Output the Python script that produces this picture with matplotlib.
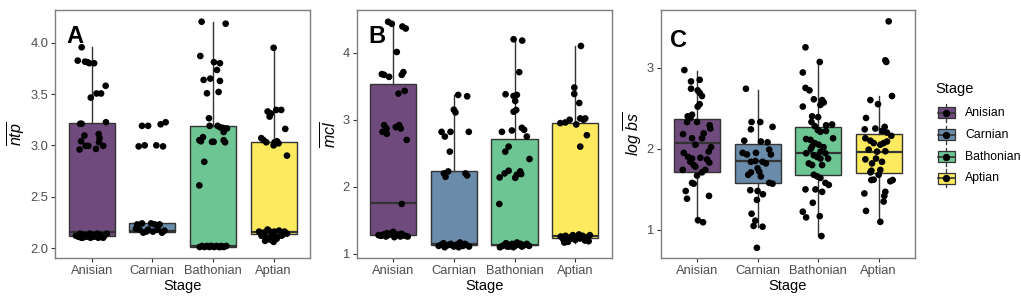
import matplotlib
matplotlib.use("Agg")
import matplotlib.pyplot as plt
from matplotlib.patches import Rectangle

plt.rcParams['font.family'] = ['Liberation Sans', 'DejaVu Sans']
plt.rcParams['mathtext.fontset'] = 'custom'
plt.rcParams['mathtext.it'] = 'Liberation Sans:italic'
plt.rcParams['mathtext.rm'] = 'Liberation Sans'

# ---------------- data ----------------
stages = ["Anisian", "Carnian", "Bathonian", "Aptian"]
stage_colors = ["#6F4A7D", "#6A8BAA", "#6CC593", "#FDEA5E"]

# Panel A: mean ntp  (jitter offsets dx, values y)
A_anisian_dx = [-0.165, -0.23, -0.11, -0.07, -0.04, 0.04, 0.23, 0.08, 0.155, -0.015, -0.19, -0.165, 0.235,
                -0.12, 0.115, 0.13, 0.12, -0.175, -0.10, -0.055, 0.19, 0.07, -0.2,
                -0.26, -0.22, -0.19, -0.15, -0.12, -0.08, -0.05, -0.02, 0.01, 0.04, 0.07, 0.11, 0.14, 0.17,
                0.21, 0.25, -0.17, -0.03, 0.09, 0.19]
A_anisian_y = [3.955, 3.825, 3.815, 3.81, 3.80, 3.80, 3.58, 3.505, 3.505, 3.465, 3.21, 3.21, 3.225,
               3.095, 3.11, 3.07, 3.03, 3.04, 2.995, 2.995, 2.995, 2.965, 2.96,
               2.12, 2.11, 2.14, 2.10, 2.13, 2.11, 2.12, 2.10, 2.13, 2.11, 2.12, 2.10, 2.13, 2.11,
               2.12, 2.14, 2.10, 2.14, 2.14, 2.10]
A_carnian_dx = [-0.17, -0.07, 0.137, 0.22, -0.225, -0.126, 0.066, 0.176,
                -0.25, -0.17, -0.02, 0.04, -0.21, -0.15, -0.07, 0.01, 0.09, 0.16, -0.27, 0.12, -0.1, 0.2]
A_carnian_y = [3.19, 3.19, 3.205, 3.225, 2.99, 3.0, 3.0, 2.99,
               2.23, 2.24, 2.24, 2.23, 2.18, 2.15, 2.18, 2.16, 2.18, 2.15, 2.19, 2.23, 2.16, 2.17]
A_bathonian_dx = [-0.187, 0.209, -0.209, 0.016, 0.115, 0.066, -0.154, -0.044, 0.115, -0.099, 0.093, -0.066,
                  -0.055, 0.077, 0.12, 0.165, 0.23, 0.176, -0.165, -0.225, -0.198, -0.016, 0.011, 0.176,
                  0.2, -0.143, -0.225,
                  -0.22, -0.18, -0.14, -0.1, -0.06, -0.02, 0.02, 0.06, 0.1, 0.14, 0.18, 0.22, -0.04, 0.12]
A_bathonian_y = [4.204, 4.185, 3.87, 3.81, 3.80, 3.734, 3.637, 3.65, 3.627, 3.507, 3.52, 3.264,
                 3.19, 3.19, 3.175, 3.17, 3.165, 3.13, 3.08, 3.05, 3.04, 3.034, 3.034, 3.05,
                 3.03, 2.84, 2.61,
                 2.01, 2.02, 2.01, 2.02, 2.01, 2.02, 2.01, 2.02, 2.01, 2.02, 2.01, 2.02, 2.02, 2.01]
A_aptian_dx = [0.0, -0.099, -0.044, 0.044, 0.126, -0.066, 0.192, -0.203, -0.165, -0.12, 0.016, 0.055, 0.0,
               0.082, 0.22,
               -0.24, -0.2, -0.16, -0.12, -0.08, -0.03, 0.01, 0.05, 0.09, 0.13, 0.18, 0.22, -0.14, -0.05,
               0.04, 0.15, -0.1, 0.0]
A_aptian_y = [3.95, 3.33, 3.31, 3.345, 3.345, 3.28, 3.16, 3.07, 3.05, 3.03, 3.03, 3.04, 3.00,
              3.02, 2.90,
              2.16, 2.12, 2.15, 2.10, 2.17, 2.13, 2.16, 2.09, 2.17, 2.12, 2.16, 2.14, 2.07, 2.08,
              2.11, 2.13, 2.18, 2.06]

# Panel B: mean mcl
B_anisian_dx = [-0.082, -0.022, 0.153, 0.208, 0.06, -0.186, -0.148, -0.066, 0.169, 0.142, 0.087, 0.191,
                -0.148, -0.109, -0.175, -0.104, 0.044, 0.098, 0.126, 0.224, 0.142,
                -0.24, -0.2, -0.16, -0.12, -0.08, -0.04, 0.0, 0.04, 0.08, 0.12, 0.16, 0.2, 0.24, -0.1, 0.02, 0.14]
B_anisian_y = [4.46, 4.43, 4.39, 4.36, 4.01, 3.68, 3.67, 3.64, 3.71, 3.67, 3.39, 3.43,
               2.92, 2.87, 2.82, 2.79, 2.89, 2.92, 2.87, 2.70, 1.745,
               1.28, 1.27, 1.29, 1.26, 1.28, 1.30, 1.33, 1.27, 1.29, 1.26, 1.28, 1.27, 1.26, 1.31, 1.25, 1.30]
B_carnian_dx = [0.071, 0.219, 0.0, 0.027, -0.202, -0.055, 0.246, -0.148, -0.066, -0.164, -0.137, -0.093,
                0.191, 0.219,
                -0.25, -0.2, -0.15, -0.1, -0.05, 0.0, 0.05, 0.1, 0.15, 0.2, 0.25, -0.17, -0.03, 0.08, 0.18]
B_carnian_y = [3.37, 3.35, 3.15, 3.11, 2.82, 2.82, 2.82, 2.75, 2.525, 2.20, 2.15, 2.23,
               2.20, 2.17,
               1.12, 1.14, 1.10, 1.13, 1.15, 1.11, 1.14, 1.17, 1.12, 1.14, 1.11, 1.16, 1.13, 1.10, 1.15]
B_bathonian_dx = [-0.016, 0.126, 0.077, -0.148, -0.016, 0.038, 0.011, -0.016, 0.027, -0.208, -0.044, 0.12,
                  0.158, 0.202, -0.098, -0.153, 0.246, -0.246, -0.164, -0.098, 0.011, 0.038, 0.093, 0.109,
                  -0.251,
                  -0.24, -0.2, -0.16, -0.12, -0.08, -0.04, 0.0, 0.04, 0.08, 0.12, 0.16, 0.2, 0.24, -0.14,
                  -0.02, 0.1, 0.03, -0.09]
B_bathonian_y = [4.20, 4.18, 3.71, 3.38, 3.355, 3.37, 3.28, 3.12, 3.145, 2.82, 2.84, 2.88,
                 2.85, 2.75, 2.60, 2.525, 2.415, 2.14, 2.20, 2.24, 2.135, 2.18, 2.23, 2.19,
                 1.745,
                 1.10, 1.12, 1.14, 1.11, 1.13, 1.15, 1.12, 1.17, 1.14, 1.11, 1.13, 1.15, 1.12, 1.16,
                 1.10, 1.15, 1.13, 1.11]
B_aptian_dx = [0.093, -0.016, -0.016, 0.066, -0.246, -0.164, -0.093, 0.016, 0.082, 0.164, 0.137, 0.191, 0.082,
               -0.24, -0.2, -0.16, -0.12, -0.08, -0.04, 0.0, 0.04, 0.08, 0.12, 0.16, 0.2, 0.24, -0.18,
               -0.06, 0.06, 0.14, 0.22]
B_aptian_y = [4.10, 3.48, 3.385, 3.25, 2.95, 2.96, 3.0, 2.93, 3.02, 3.02, 3.0, 2.77, 2.60,
              1.26, 1.22, 1.27, 1.18, 1.25, 1.28, 1.21, 1.26, 1.23, 1.27, 1.20, 1.25, 1.28, 1.17,
              1.23, 1.29, 1.24, 1.19]

# Panel C: log mean bs
C_anisian_dx = [-0.209, -0.099, 0.044, -0.099, 0.011, 0.044, 0.082, 0.044, 0.011, -0.154, -0.082, -0.11,
                -0.165, 0.0, 0.209, 0.22, -0.231, -0.082, 0.11, 0.082, 0.231, 0.192, -0.22, -0.148,
                -0.11, -0.082, 0.055, 0.165, 0.203, -0.055, -0.027, 0.082, 0.137, -0.236, 0.0, -0.082,
                -0.055, -0.187, -0.165, 0.198, 0.016, 0.099, -0.027]
C_anisian_y = [2.97, 2.83, 2.85, 2.74, 2.72, 2.69, 2.65, 2.55, 2.52, 2.40, 2.42, 2.38,
               2.33, 2.33, 2.29, 2.25, 2.18, 2.13, 2.19, 2.13, 2.02, 1.965, 1.95, 1.90,
               1.84, 1.88, 1.89, 1.87, 1.83, 1.80, 1.78, 1.71, 1.74, 1.74, 1.67, 1.58,
               1.57, 1.48, 1.385, 1.42, 1.12, 1.095, 2.05]
C_carnian_dx = [-0.192, -0.099, 0.044, -0.11, 0.247, -0.22, 0.055, 0.165, -0.247, -0.176, -0.027, 0.192,
                0.22, -0.11, -0.038, 0.082, 0.137, 0.0, 0.027, -0.11, -0.154, 0.055, 0.192, 0.247,
                -0.121, 0.0, 0.088, -0.011, -0.099, -0.038, 0.082, -0.066, -0.011]
C_carnian_y = [2.74, 2.33, 2.33, 2.24, 2.27, 2.10, 2.09, 2.08, 1.95, 1.93, 1.95, 1.99,
               1.93, 1.84, 1.85, 1.84, 1.82, 1.76, 1.72, 1.71, 1.68, 1.66, 1.58, 1.57,
               1.49, 1.48, 1.44, 1.37, 1.20, 1.115, 1.04, 1.05, 0.78]
C_bathonian_dx = [-0.209, 0.027, -0.253, -0.209, -0.143, -0.071, 0.066, 0.093, 0.038, -0.253, -0.099, 0.0,
                  0.132, 0.231, -0.11, -0.055, -0.005, 0.038, 0.247, -0.198, -0.126, -0.055, 0.011, -0.099,
                  0.121, -0.198, -0.016, 0.038, -0.071, -0.154, -0.099, 0.066, 0.165, -0.071, -0.016, 0.038,
                  0.121, 0.176, -0.209, -0.044, 0.066, -0.088, -0.253, -0.198, 0.027, 0.055,
                  0.04, -0.12, 0.09, 0.13]
C_bathonian_y = [3.25, 3.07, 2.94, 2.75, 2.72, 2.61, 2.60, 2.57, 2.54, 2.52, 2.40, 2.39,
                 2.29, 2.30, 2.33, 2.28, 2.23, 2.21, 2.13, 2.12, 2.11, 2.07, 2.05, 2.03,
                 1.945, 1.945, 1.90, 1.88, 1.92, 1.82, 1.80, 1.80, 1.88, 1.68, 1.66, 1.64,
                 1.58, 1.555, 1.50, 1.50, 1.47, 1.335, 1.225, 1.155, 1.17, 0.925,
                 1.965, 2.0, 2.02, 2.22]
C_aptian_dx = [0.165, 0.11, 0.126, 0.22, -0.137, -0.011, -0.209, -0.231, -0.055, 0.099, 0.055, 0.137,
               0.209, -0.22, -0.137, -0.082, 0.027, 0.082, 0.137, -0.165, -0.027, 0.11, -0.22, -0.11,
               -0.044, 0.055, -0.121, 0.027, -0.137, 0.0, -0.082, -0.121, 0.231, 0.192, -0.236, 0.11,
               0.093, 0.082, -0.209, 0.027]
C_aptian_y = [3.57, 3.09, 3.07, 2.65, 2.60, 2.55, 2.38, 2.24, 2.25, 2.27, 2.22, 2.20,
              2.16, 2.13, 2.10, 2.07, 2.05, 2.07, 2.09, 1.99, 1.965, 1.97, 1.87, 1.82,
              1.88, 1.84, 1.73, 1.74, 1.71, 1.68, 1.62, 1.615, 1.615, 1.60, 1.45, 1.47,
              1.42, 1.35, 1.235, 1.10]

# box statistics: q1, median, q3, lower whisker, upper whisker
A_q1 = [2.113, 2.156, 2.013, 2.140]
A_med = [2.152, 2.165, 2.020, 2.155]
A_q3 = [3.216, 2.243, 3.190, 3.037]
A_lo = [2.100, 2.150, 2.010, 2.065]
A_hi = [3.955, 2.243, 4.204, 3.950]

B_q1 = [1.283, 1.134, 1.134, 1.243]
B_med = [1.755, 1.150, 1.140, 1.268]
B_q3 = [3.528, 2.236, 2.708, 2.947]
B_lo = [1.250, 1.100, 1.100, 1.170]
B_hi = [4.460, 3.370, 4.200, 4.100]

C_q1 = [1.720, 1.575, 1.680, 1.700]
C_med = [2.070, 1.855, 1.950, 1.965]
C_q3 = [2.370, 2.060, 2.270, 2.180]
C_lo = [1.095, 1.040, 0.925, 1.100]
C_hi = [2.960, 2.730, 3.070, 2.650]

A_yticks = [2.0, 2.5, 3.0, 3.5, 4.0]
B_yticks = [1, 2, 3, 4]
C_yticks = [1, 2, 3]

# ---------------- figure ----------------
W, H = 1021, 304
fig = plt.figure(figsize=(W / 100, H / 100), dpi=100)
fig.patch.set_facecolor("white")

def frac(left, top, right, bottom):
    return [left / W, 1 - bottom / H, (right - left) / W, (bottom - top) / H]

panels = [
    dict(rect=frac(55.3, 10, 310, 258), letter="A", lpos=(0.042, 0.867),
         pts=[(A_anisian_dx, A_anisian_y), (A_carnian_dx, A_carnian_y),
              (A_bathonian_dx, A_bathonian_y), (A_aptian_dx, A_aptian_y)],
         stats=(A_q1, A_med, A_q3, A_lo, A_hi), ylim=(1.903, 4.318), yticks=A_yticks,
         yfmt="{:.1f}", ylabel=r"$\overline{ntp}$"),
    dict(rect=frac(356.7, 10, 611.7, 258.3), letter="B", lpos=(0.046, 0.868),
         pts=[(B_anisian_dx, B_anisian_y), (B_carnian_dx, B_carnian_y),
              (B_bathonian_dx, B_bathonian_y), (B_aptian_dx, B_aptian_y)],
         stats=(B_q1, B_med, B_q3, B_lo, B_hi), ylim=(0.935, 4.636), yticks=B_yticks,
         yfmt="{:d}", ylabel=r"$\overline{mcl}$"),
    dict(rect=frac(660.7, 10, 915, 258.3), letter="C", lpos=(0.036, 0.852),
         pts=[(C_anisian_dx, C_anisian_y), (C_carnian_dx, C_carnian_y),
              (C_bathonian_dx, C_bathonian_y), (C_aptian_dx, C_aptian_y)],
         stats=(C_q1, C_med, C_q3, C_lo, C_hi), ylim=(0.651, 3.71), yticks=C_yticks,
         yfmt="{:d}", ylabel=r"$log\ \overline{bs}$"),
]

box_edge = "#333333"
for p in panels:
    ax = fig.add_axes(p["rect"])
    q1, med, q3, lo, hi = p["stats"]
    bstats = []
    for i in range(len(stages)):
        bstats.append(dict(q1=q1[i], med=med[i], q3=q3[i], whislo=lo[i], whishi=hi[i],
                           fliers=[], label=stages[i]))
    positions = list(range(1, len(stages) + 1))
    bp = ax.bxp(bstats, positions=positions, widths=0.76, showfliers=False, showcaps=False,
                patch_artist=True,
                boxprops=dict(edgecolor=box_edge, linewidth=1.0),
                whiskerprops=dict(color=box_edge, linewidth=1.0),
                medianprops=dict(color=box_edge, linewidth=1.6),
                zorder=2)
    for patch, c in zip(bp["boxes"], stage_colors):
        patch.set_facecolor(c)
    for i, (dx, yv) in enumerate(p["pts"]):
        xs = [positions[i] + d for d in dx]
        ax.scatter(xs, yv, s=23, color="black", edgecolors="none", zorder=4)
    ax.set_xlim(0.4, 4.6)
    ax.set_ylim(*p["ylim"])
    ax.set_xticks(positions)
    ax.set_xticklabels(stages)
    ax.set_yticks(p["yticks"])
    ax.set_yticklabels([p["yfmt"].format(t) for t in p["yticks"]])
    ax.tick_params(axis="both", length=3, width=0.8, color="#333333",
                   labelsize=9.3, labelcolor="#4D4D4D", pad=2)
    for s in ax.spines.values():
        s.set_color("#7F7F7F")
        s.set_linewidth(1.0)
    ax.set_xlabel("Stage", fontsize=10.5, labelpad=1.5)
    ax.set_ylabel(p["ylabel"], fontsize=11.5, labelpad=2)
    ax.text(p["lpos"][0], p["lpos"][1], p["letter"], transform=ax.transAxes,
            fontsize=17, fontweight="bold", va="baseline", ha="left", zorder=6)

# legend (drawn in pixel space)
lg = fig.add_axes([0, 0, 1, 1])
lg.set_xlim(0, W)
lg.set_ylim(H, 0)
lg.axis("off")
lg.text(935, 89, "Stage", fontsize=10.5, va="center", ha="left")
key_y = [112.7, 134.5, 156.5, 178.3]
for yk, c, name in zip(key_y, stage_colors, stages):
    xc = 946
    lg.plot([xc, xc], [yk - 9, yk + 9], color=box_edge, lw=0.9, zorder=1)
    lg.add_patch(Rectangle((937.5, yk - 5.5), 17, 11, facecolor=c, edgecolor=box_edge,
                           lw=0.9, zorder=2))
    lg.plot([937.5, 954.5], [yk, yk], color=box_edge, lw=1.2, zorder=3)
    lg.plot([xc], [yk], "o", color="black", ms=4.3, zorder=4)
    lg.text(965, yk, name, fontsize=8.8, va="center", ha="left")

fig.savefig("out.png", dpi=100, facecolor="white")
